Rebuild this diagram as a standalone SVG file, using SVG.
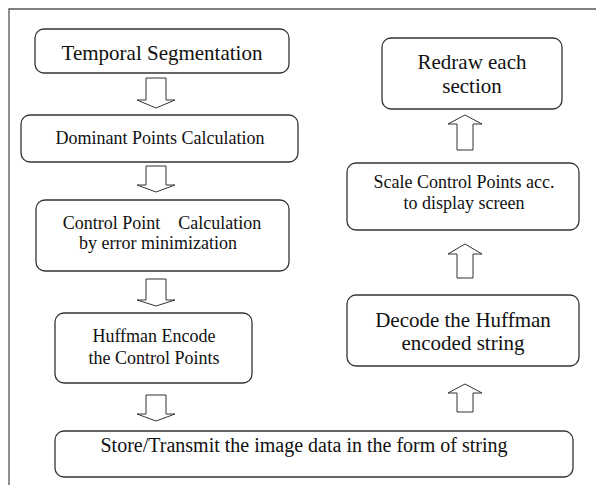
<svg xmlns="http://www.w3.org/2000/svg" width="596" height="485" viewBox="0 0 596 485">
  <style>
    .box { fill: #ffffff; stroke: #333333; stroke-width: 1.3; }
    .arrow { fill: #ffffff; stroke: #333333; stroke-width: 1; stroke-linejoin: miter; }
    .frame { fill: none; stroke: #555555; stroke-width: 1.3; }
    .lbl { font-family: "Liberation Serif", "Times New Roman", Times, serif; fill: #111111; text-anchor: middle; }
    .f18 { font-size: 18px; }
    .f20 { font-size: 20px; }
    .f21 { font-size: 21px; }
  </style>

  <rect width="596" height="485" fill="#ffffff"/>
  <path class="frame" d="M9,485 V9 H596"/>

  <!-- encoding column -->
  <g id="temporal-segmentation">
    <rect class="box" x="35" y="29" width="254" height="44" rx="9"/>
    <text class="lbl f21" font-family="Liberation Serif, serif" x="162" y="60">Temporal Segmentation</text>
  </g>
  <g id="dominant-points">
    <rect class="box" x="21" y="115" width="277" height="47" rx="9"/>
    <text class="lbl f18" font-family="Liberation Serif, serif" x="160" y="144">Dominant Points Calculation</text>
  </g>
  <g id="control-points">
    <rect class="box" x="36" y="200" width="253" height="71" rx="9"/>
    <text class="lbl f18" font-family="Liberation Serif, serif" x="162" y="229" xml:space="preserve">Control Point    Calculation</text>
    <text class="lbl f18" font-family="Liberation Serif, serif" x="158" y="249">by error minimization</text>
  </g>
  <g id="huffman-encode">
    <rect class="box" x="55" y="313" width="197" height="70" rx="9"/>
    <text class="lbl f18" font-family="Liberation Serif, serif" x="154" y="342">Huffman Encode</text>
    <text class="lbl f18" font-family="Liberation Serif, serif" x="154" y="364">the Control Points</text>
  </g>
  <g id="store-transmit">
    <rect class="box" x="55" y="431" width="518" height="46" rx="9"/>
    <text class="lbl f20" font-family="Liberation Serif, serif" x="304" y="452">Store/Transmit the image data in the form of string</text>
  </g>

  <!-- decoding column -->
  <g id="decode-huffman">
    <rect class="box" x="347" y="295" width="232" height="71" rx="9"/>
    <text class="lbl f21" font-family="Liberation Serif, serif" x="463" y="327">Decode the Huffman</text>
    <text class="lbl f21" font-family="Liberation Serif, serif" x="463" y="350">encoded string</text>
  </g>
  <g id="scale-control-points">
    <rect class="box" x="347" y="163" width="232" height="67" rx="9"/>
    <text class="lbl f18" font-family="Liberation Serif, serif" x="464" y="188">Scale Control Points acc.</text>
    <text class="lbl f18" font-family="Liberation Serif, serif" x="464" y="209">to display screen</text>
  </g>
  <g id="redraw-section">
    <rect class="box" x="382" y="38" width="180" height="71" rx="9"/>
    <text class="lbl f21" font-family="Liberation Serif, serif" x="472" y="69">Redraw each</text>
    <text class="lbl f21" font-family="Liberation Serif, serif" x="472" y="93">section</text>
  </g>

  <!-- block arrows -->
  <g id="connectors">
    <path class="arrow" d="M146,78 H166 V100 H175 L156,108 L137,100 H146 Z"/>
    <path class="arrow" d="M146,166 H166 V185 H175 L156,192 L137,185 H146 Z"/>
    <path class="arrow" d="M146,279 H166 V300 H175 L156,306 L137,300 H146 Z"/>
    <path class="arrow" d="M146,395 H166 V414 H175 L156,421 L137,414 H146 Z"/>
    <path class="arrow" d="M457,412 H473 V393 H482 L465,384 L448,393 H457 Z"/>
    <path class="arrow" d="M457,278 H473 V254 H482 L465,244 L448,254 H457 Z"/>
    <path class="arrow" d="M457,150 H473 V124 H482 L465,115 L448,124 H457 Z"/>
  </g>
</svg>
